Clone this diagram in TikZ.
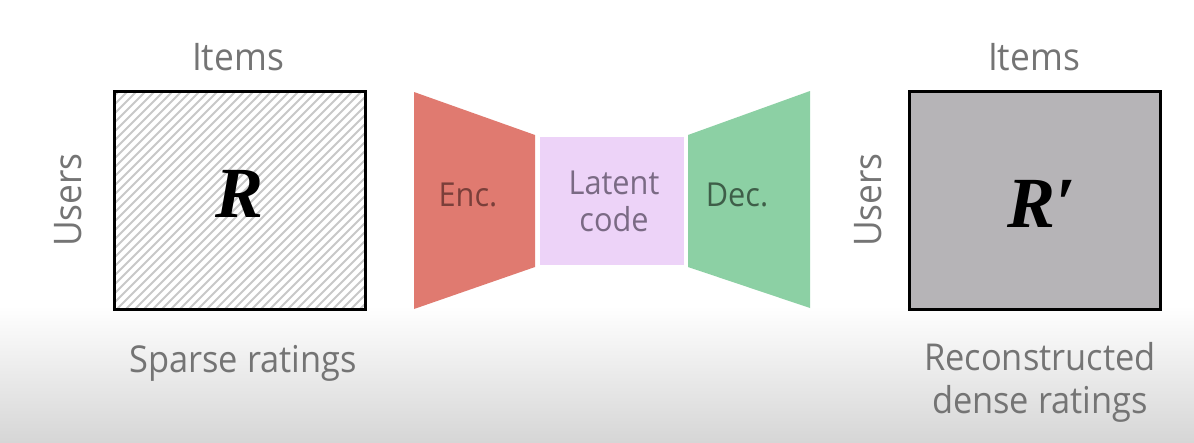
\documentclass[tikz,border=0pt]{standalone}
\usepackage{fontspec}
\setmainfont{Open Sans}[FakeStretch=0.93]
\newfontfamily\matsym{Liberation Serif}
\definecolor{txtgray}{HTML}{747474}
\definecolor{encred}{HTML}{E07A70}
\definecolor{enctxt}{HTML}{7A3F3A}
\definecolor{latentfill}{HTML}{EDD3F8}
\definecolor{latenttxt}{HTML}{7A6A84}
\definecolor{decgreen}{HTML}{8CD0A4}
\definecolor{dectxt}{HTML}{3E5E48}
\definecolor{densefill}{HTML}{B6B4B7}
\definecolor{hatch}{HTML}{C8C8C8}
\definecolor{floor}{HTML}{D6D6D6}
\tikzset{
  matbox/.style={draw=black, line width=3pt, minimum width=251pt, minimum height=218pt, inner sep=0pt},
  axislabel/.style={text=txtgray, font=\fontsize{38}{42}\selectfont, inner sep=0pt},
  caption/.style={text=txtgray, font=\fontsize{37}{43}\selectfont, inner sep=0pt},
  blocklabel/.style={font=\fontsize{33}{37}\selectfont, align=center, inner sep=0pt},
  bigsym/.style={font=\matsym\bfseries\itshape\fontsize{72}{72}\selectfont, inner sep=0pt}
}
\begin{document}
\begin{tikzpicture}[x=1pt,y=-1pt]
\useasboundingbox (0,0) rectangle (1194,442);
% backdrop: white stage fading into a grey floor
\fill[white] (0,0) rectangle (1194,442);
\shade[top color=white, bottom color=floor] (0,306) rectangle (1194,442);

% sparse rating matrix with hatching
\begin{scope}
  \clip (113,90) rectangle (366,310);
  \foreach \k in {-240,-231,...,260} {
    \draw[hatch, line width=1.8pt] (113+\k,310) -- (113+\k+220,90);
  }
\end{scope}
\node[matbox] (R) at (239.5,200) {};
\node[bigsym, anchor=base] (Rsym) at (240,217) {R};
\node[axislabel] (itemsL) at (238,57) {Items};
\node[axislabel, rotate=90] (usersL) at (68,200) {Users};
\node[caption, anchor=base] (sparse) at (243,372) {Sparse ratings};

% encoder, latent code, decoder
\fill[encred] (414,92) -- (535,135) -- (535,267) -- (414,309) -- cycle;
\node[blocklabel, text=enctxt] (enc) at (468,195) {Enc.};
\node[fill=latentfill, minimum width=144pt, minimum height=128pt, inner sep=0pt] (latent) at (612,201) {};
\node[blocklabel, text=latenttxt] (latenttxtnode) at (614,201) {Latent\\code};
\fill[decgreen] (688,135) -- (810,91) -- (810,308) -- (688,267) -- cycle;
\node[blocklabel, text=dectxt] (dec) at (737,195) {Dec.};

% reconstructed dense matrix
\node[matbox, fill=densefill] (Rp) at (1035,200) {};
\node[bigsym, anchor=base] (Rpsym) at (1042,227) {R′};
\node[axislabel] (itemsR) at (1034,57) {Items};
\node[axislabel, rotate=90] (usersR) at (868,200) {Users};
\node[caption, anchor=base] (recon1) at (1040,370) {Reconstructed};
\node[caption, anchor=base] (recon2) at (1040,413) {dense ratings};
\end{tikzpicture}
\end{document}
